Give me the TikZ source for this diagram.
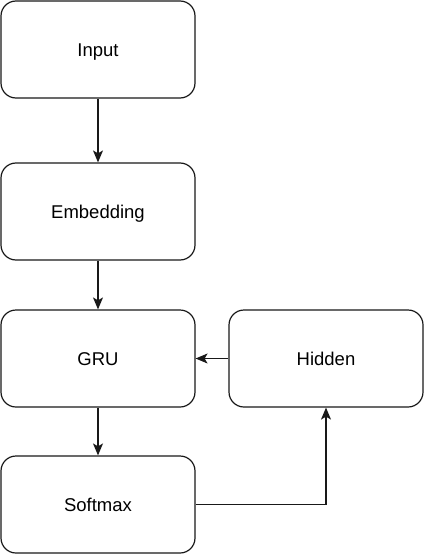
\documentclass[tikz,border=0pt]{standalone}
\usepackage{fontspec}
\setmainfont{Liberation Sans}
\usetikzlibrary{arrows.meta}

\begin{document}
\begin{tikzpicture}[x=1pt,y=-1pt,>={Stealth[length=12pt,width=10pt,inset=3pt]},draw=black!90,line width=1.2pt]
        \tikzstyle{block}=[draw=black!90,rounded corners=15pt,minimum width=194pt,minimum height=97pt,text height=13pt,text depth=0pt,font=\fontsize{18.5}{22}\selectfont]
        \useasboundingbox (0,0) rectangle (424,554);

        % left column
        \node[block] (input) at (98,49.5) {Input};
        \node[block] (embed) at (98,211.5) {Embedding};
        \node[block] (gru) at (98,358.5) {GRU};
        \node[block] (softmax) at (98,504.5) {Softmax};

        % right column
        \node[block] (hidden) at (326,358.5) {Hidden};

        \draw[->] (input) -- (embed);
        \draw[->] (embed) -- (gru);
        \draw[->] (gru) -- (softmax);
        \draw[->] (hidden) -- (gru);
        \draw[->] (softmax.east) -| (hidden.south);
    \end{tikzpicture}
\end{document}
